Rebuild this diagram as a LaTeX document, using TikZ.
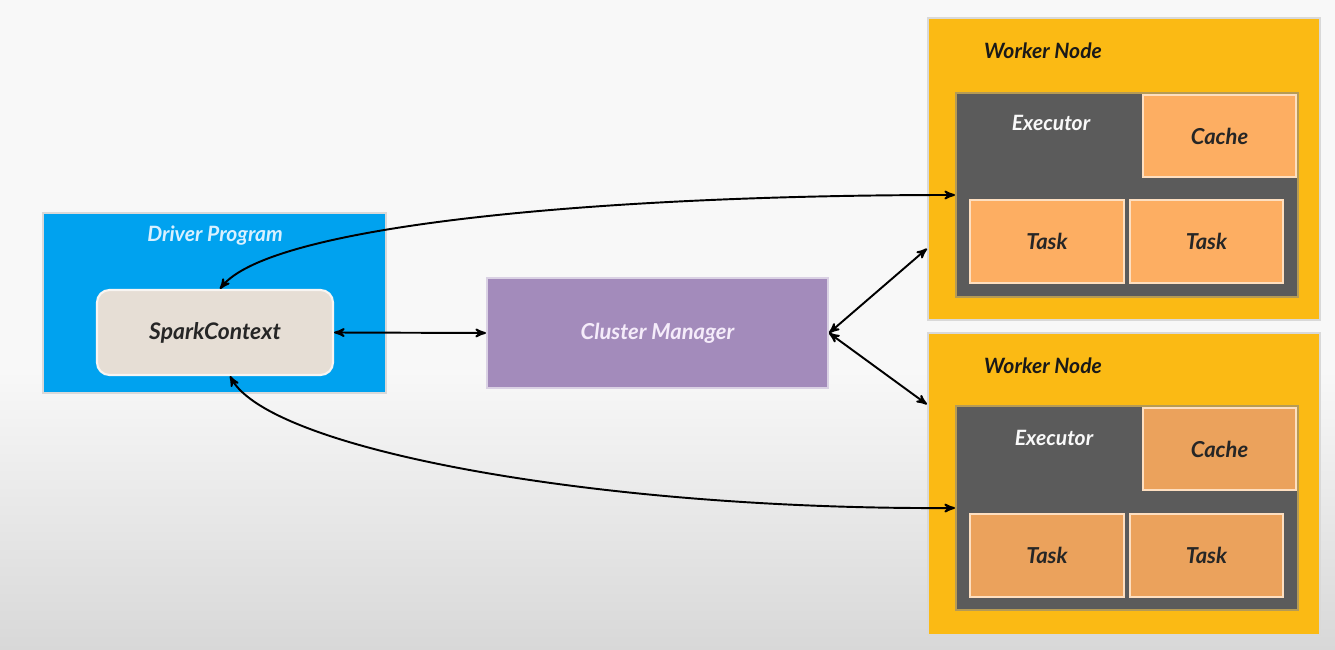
\documentclass[tikz,border=0pt]{standalone}
\usepackage{fontspec}
\setmainfont{Lato}
\usetikzlibrary{arrows}

\definecolor{bgtop}{HTML}{F8F8F8}
\definecolor{bgbot}{HTML}{D8D8D8}
\definecolor{driverblue}{HTML}{00A2EF}
\definecolor{drivertext}{HTML}{D8F0FF}
\definecolor{sparkbeige}{HTML}{E6DED5}
\definecolor{cmpurple}{HTML}{A38BBB}
\definecolor{cmtext}{HTML}{F5ECFA}
\definecolor{workergold}{HTML}{FBBA14}
\definecolor{execgray}{HTML}{5B5B5B}
\definecolor{taskorange}{HTML}{FDAE62}
\definecolor{taskorangeb}{HTML}{EBA25C}

\tikzset{
  box/.style={rectangle, inner sep=0pt, line width=1.2pt, font=\fontsize{12.5}{14}\selectfont\bfseries\itshape},
  worker/.style={box, fill=workergold, draw=gray!30},
  executor/.style={box, fill=execgray, draw=workergold!60!black!70},
  part/.style={box, fill=taskorange, draw=white!60!taskorange, text=black!85},
  label/.style={font=\fontsize{12}{14}\selectfont\bfseries\itshape},
  link/.style={<->, >=stealth', line width=1.1pt, black}
}

\begin{document}
\begin{tikzpicture}
      \useasboundingbox (0,0) rectangle (26.7,-13);
      \fill[bgtop] (0,0) rectangle (26.7,-7.4);
      \shade[top color=bgtop, bottom color=bgbot] (0,-7.4) rectangle (26.7,-13);

      % driver side
      \node[box, fill=driverblue, draw=gray!30, minimum width=6.86cm, minimum height=3.6cm] (driver) at (4.29,-6.06) {};
      \node[label, text=drivertext] (drivertitle) at (4.3,-4.72) {Driver Program};
      \node[box, fill=sparkbeige, draw=white!70!sparkbeige, rounded corners=0.25cm, minimum width=4.72cm, minimum height=1.7cm, text=black!85, font=\fontsize{13}{15}\selectfont\bfseries\itshape] (sc) at (4.3,-6.65) {SparkContext};

      \node[box, fill=cmpurple, draw=white!60!cmpurple, minimum width=6.82cm, minimum height=2.2cm, text=cmtext] (cm) at (13.15,-6.66) {Cluster Manager};

      % first worker
      \node[worker, minimum width=7.84cm, minimum height=6.04cm] (w1) at (22.48,-3.38) {};
      \node[label, anchor=west, text=black!90] (w1title) at (19.56,-1.02) {Worker Node};
      \node[executor, minimum width=6.84cm, minimum height=4.08cm] (ex1) at (22.54,-3.9) {};
      \node[label, text=white!95!gray] (ex1title) at (21.02,-2.46) {Executor};
      \node[part, minimum width=3.06cm, minimum height=1.64cm] (cache1) at (24.39,-2.72) {Cache};
      \node[part, minimum width=3.08cm, minimum height=1.66cm] (task1a) at (20.94,-4.83) {Task};
      \node[part, minimum width=3.06cm, minimum height=1.66cm] (task1b) at (24.13,-4.83) {Task};

      % second worker
      \node[worker, minimum width=7.84cm, minimum height=6.04cm] (w2) at (22.48,-9.68) {};
      \node[label, anchor=west, text=black!90] (w2title) at (19.56,-7.32) {Worker Node};
      \node[executor, minimum width=6.84cm, minimum height=4.08cm] (ex2) at (22.54,-10.16) {};
      \node[label, text=white!95!gray] (ex2title) at (21.08,-8.76) {Executor};
      \node[part, fill=taskorangeb, minimum width=3.06cm, minimum height=1.64cm] (cache2) at (24.39,-8.98) {Cache};
      \node[part, fill=taskorangeb, minimum width=3.08cm, minimum height=1.66cm] (task2a) at (20.94,-11.11) {Task};
      \node[part, fill=taskorangeb, minimum width=3.06cm, minimum height=1.66cm] (task2b) at (24.13,-11.11) {Task};

      % links
      \draw[link] (sc.east) -- (cm.west);
      \draw[link] (cm.east) -- (w1.202);
      \draw[link] (cm.east) -- (w2.158);
      \draw[link] ([xshift=0.1cm]sc.north) .. controls (5.4,-4.5) and (12,-3.9) .. (ex1.west);
      \draw[link] ([xshift=0.3cm]sc.south) .. controls (5.4,-9) and (12,-10.2) .. (ex2.west);
\end{tikzpicture}
\end{document}
